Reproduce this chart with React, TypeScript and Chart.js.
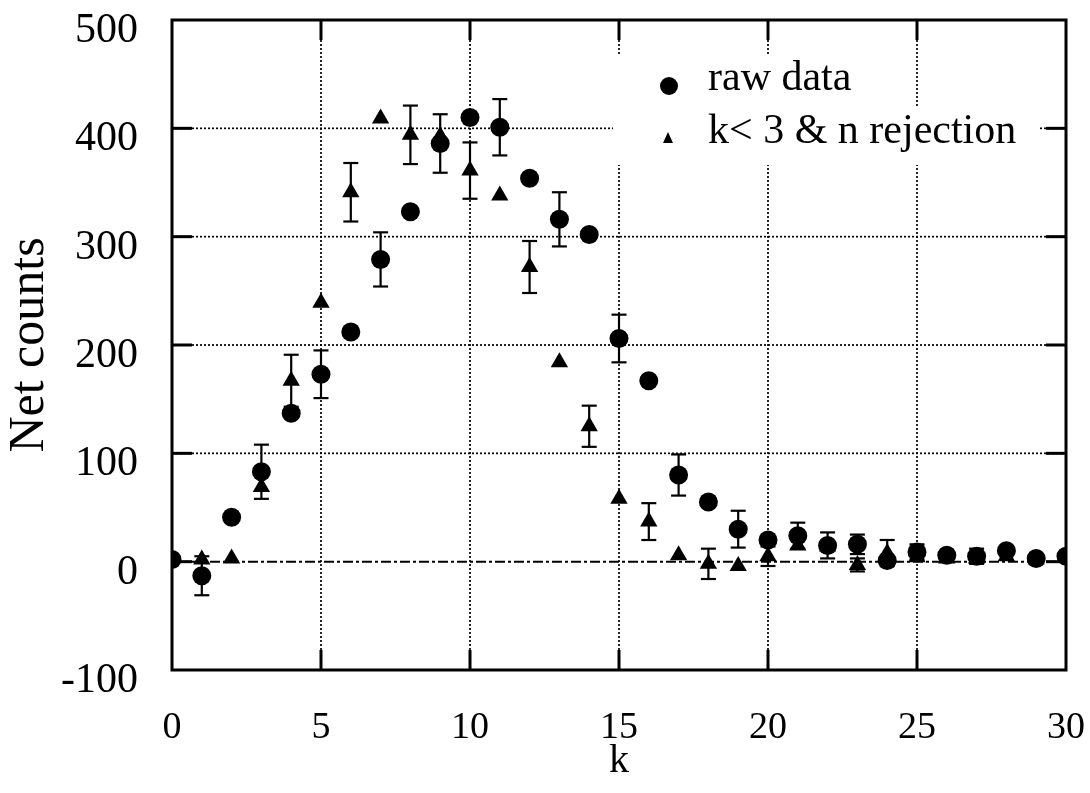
import React, { useEffect, useRef } from "react";
import { Chart, registerables } from "chart.js";

Chart.register(...registerables);

// Bin index k
const kValues = [
  0, 1, 2, 3, 4, 5, 6, 7, 8, 9, 10, 11, 12, 13, 14, 15,
  16, 17, 18, 19, 20, 21, 22, 23, 24, 25, 26, 27, 28, 29, 30,
];

// Net counts, raw data
const rawCounts = [
  2, -13, 41, 83, 137, 173, 212, 279, 323, 386, 410, 401, 354, 316, 302, 206,
  167, 80, 55, 30, 20, 24, 15, 16, 1, 9, 6, 5, 10, 3, 5,
];
// Error half-widths for raw data (null = no bar drawn)
const rawErrors = [
  null, 18, null, 25, null, 22, null, 25, null, 27, null, 26, null, 25, null, 22,
  null, 19, null, 17, null, 12, 12, 9, null, 7, null, 7, null, null, null,
];

// Net counts after k<3 & n rejection (k = 1..30)
const rejK = [
  1, 2, 3, 4, 5, 6, 7, 8, 9, 10, 11, 12, 13, 14, 15,
  16, 17, 18, 19, 20, 21, 22, 23, 24, 25, 26, 27, 28, 29, 30,
];
const rejCounts = [
  2, 3, 69, 167, 239, 341, 409, 394, 393, 361, 338, 272, 184, 125, 58,
  37, 6, -2, -4, 5, 15, 14, -3, 8, 4, 3, 3, 5, 2, 4,
];
const rejErrors = [
  null, null, null, 24, null, 27, null, 27, null, 26, null, 24, null, 19, null,
  17, null, 14, null, 9, null, null, 6, 12, null, null, null, null, null, null,
];

const xGridValues = [5, 10, 15, 20, 25];
const yGridValues = [100, 200, 300, 400];
const yTickValues = [0, 100, 200, 300, 400];

const legendLabels = ["raw data", "k< 3 & n rejection"];

const serif = '"Liberation Serif", "Times New Roman", serif';

const decorPlugin = {
  id: "decor",
  beforeDatasetsDraw(chart: any) {
    const { ctx, chartArea: a, scales } = chart;
    const xs = scales.x;
    const ys = scales.y;
    const line = (x1: number, y1: number, x2: number, y2: number) => {
      ctx.beginPath();
      ctx.moveTo(x1, y1);
      ctx.lineTo(x2, y2);
      ctx.stroke();
    };
    ctx.save();
    ctx.strokeStyle = "#000";

    // dotted grid
    ctx.lineWidth = 1.7;
    ctx.setLineDash([2, 2]);
    for (const v of xGridValues) {
      const px = xs.getPixelForValue(v);
      line(px, a.top, px, a.bottom);
    }
    for (const v of yGridValues) {
      const py = ys.getPixelForValue(v);
      line(a.left, py, a.right, py);
    }

    // zero line, dash-dot
    ctx.lineWidth = 2;
    ctx.setLineDash([10, 3, 3, 3]);
    const y0 = ys.getPixelForValue(0);
    line(a.left, y0, a.right, y0);
    ctx.setLineDash([]);

    // legend backing
    const lx = a.right - 453;
    ctx.fillStyle = "#fff";
    ctx.fillRect(lx, a.top + 35, 280, 54);
    ctx.fillRect(lx, a.top + 88, 427, 57);

    // frame and inward ticks
    ctx.strokeStyle = "#000";
    ctx.lineWidth = 3;
    ctx.strokeRect(a.left, a.top, a.right - a.left, a.bottom - a.top);
    const tl = 20;
    for (const v of yTickValues) {
      const py = ys.getPixelForValue(v);
      line(a.left, py, a.left + tl, py);
      line(a.right, py, a.right - tl, py);
    }
    for (const v of xGridValues) {
      const px = xs.getPixelForValue(v);
      line(px, a.bottom, px, a.bottom - tl);
      line(px, a.top, px, a.top + tl);
    }

    // error bars
    ctx.lineWidth = 2.2;
    const cap = 7.5;
    const drawErr = (ks: number[], vals: number[], errs: (number | null)[]) => {
      ks.forEach((k, i) => {
        const e = errs[i];
        if (e == null) return;
        const px = xs.getPixelForValue(k);
        const pTop = ys.getPixelForValue(vals[i] + e);
        const pBot = ys.getPixelForValue(vals[i] - e);
        line(px, pTop, px, pBot);
        line(px - cap, pTop, px + cap, pTop);
        line(px - cap, pBot, px + cap, pBot);
      });
    };
    drawErr(rejK, rejCounts, rejErrors);
    drawErr(kValues, rawCounts, rawErrors);

    // legend entries
    ctx.fillStyle = "#000";
    ctx.beginPath();
    ctx.arc(lx + 56, a.top + 66, 9, 0, Math.PI * 2);
    ctx.fill();
    ctx.beginPath();
    ctx.moveTo(lx + 55, a.top + 112);
    ctx.lineTo(lx + 60, a.top + 123);
    ctx.lineTo(lx + 50, a.top + 123);
    ctx.closePath();
    ctx.fill();
    ctx.font = `42px ${serif}`;
    ctx.textBaseline = "alphabetic";
    ctx.textAlign = "left";
    ctx.fillText(legendLabels[0], lx + 95, a.top + 70);
    ctx.fillText(legendLabels[1], lx + 95, a.top + 123);
    ctx.restore();
  },
};

export default function App() {
  const canvasRef = useRef<HTMLCanvasElement | null>(null);

  useEffect(() => {
    const canvas = canvasRef.current;
    if (!canvas) return;
    const chart = new Chart(canvas, {
      type: "scatter",
      data: {
        datasets: [
          {
            label: legendLabels[0],
            data: kValues.map((k, i) => ({ x: k, y: rawCounts[i] })),
            pointStyle: "circle",
            pointRadius: 9.5,
            backgroundColor: "#000",
            borderColor: "#000",
            borderWidth: 0,
          },
          {
            label: legendLabels[1],
            data: rejK.map((k, i) => ({ x: k, y: rejCounts[i] })),
            pointStyle: "triangle",
            pointRadius: 10,
            backgroundColor: "#000",
            borderColor: "#000",
            borderWidth: 0,
          },
        ],
      },
      options: {
        animation: false,
        responsive: false,
        maintainAspectRatio: false,
        layout: { padding: { top: 20, right: 24, left: 0, bottom: 0 } },
        plugins: { legend: { display: false }, tooltip: { enabled: false } },
        scales: {
          x: {
            type: "linear",
            min: 0,
            max: 30,
            ticks: {
              stepSize: 5,
              color: "#000",
              padding: 27,
              font: { family: serif, size: 38 },
            },
            grid: { display: false },
            border: { display: false },
            title: {
              display: true,
              text: "k",
              color: "#000",
              font: { family: serif, size: 40 },
              padding: { top: 0, bottom: 8 },
            },
            afterFit: (s: any) => {
              s.height = 123;
              s.paddingLeft = 0;
              s.paddingRight = 0;
            },
          },
          y: {
            type: "linear",
            min: -100,
            max: 500,
            ticks: {
              stepSize: 100,
              color: "#000",
              padding: 26,
              labelOffset: 11,
              font: { family: serif, size: 42 },
            },
            grid: { display: false },
            border: { display: false },
            title: {
              display: true,
              text: "Net counts",
              color: "#000",
              font: { family: serif, size: 50 },
              padding: { top: 0, bottom: 0 },
            },
            afterFit: (s: any) => {
              s.width = 172;
              s.paddingTop = 0;
              s.paddingBottom = 0;
            },
          },
        },
      },
      plugins: [decorPlugin],
    });
    return () => chart.destroy();
  }, []);

  return (
    <div
      style={{
        position: "absolute",
        left: 0,
        top: 0,
        width: 1090,
        height: 793,
        background: "#fff",
      }}
    >
      <canvas ref={canvasRef} width={1090} height={793} />
    </div>
  );
}
